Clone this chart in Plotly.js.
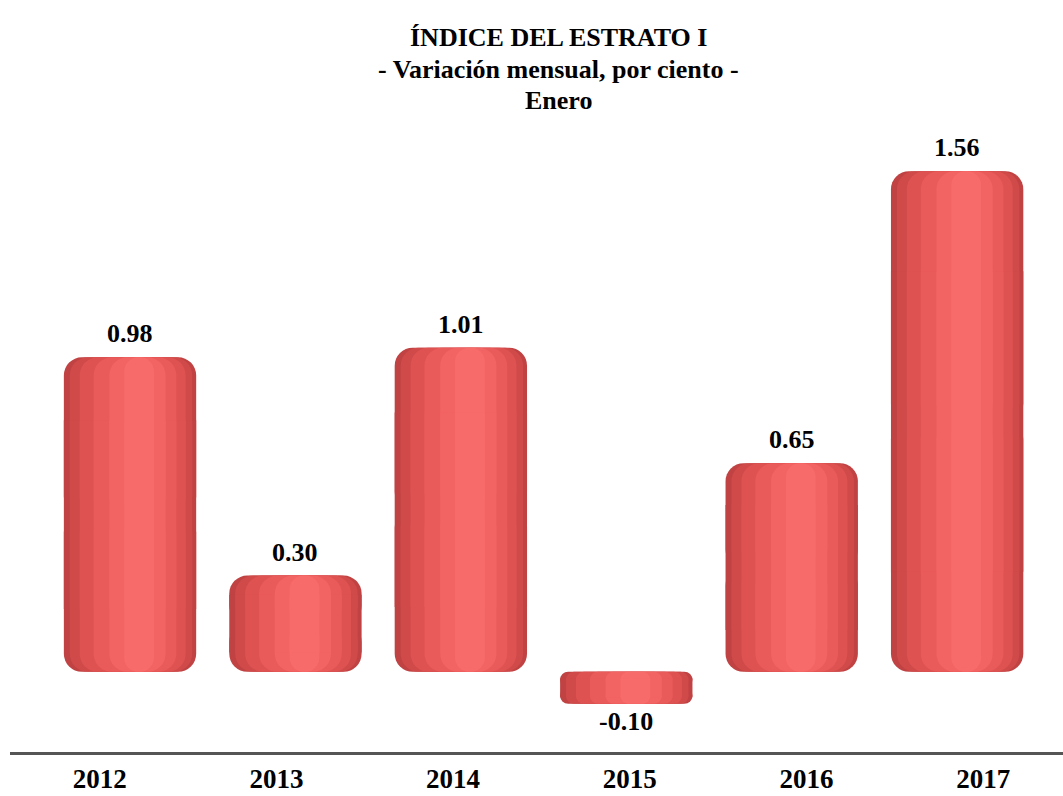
<!DOCTYPE html>
<html><head><meta charset="utf-8">
<script src="https://cdn.plot.ly/plotly-3.0.1.min.js"></script>
<style>body{margin:0;background:#fff}#chart{width:1063px;height:796px}</style>
</head><body><div id="chart"></div>
<script>
const years = ['2012','2013','2014','2015','2016','2017'];
const values = [0.98, 0.30, 1.01, -0.10, 0.65, 1.56];
const valueLabels = ['0.98','0.30','1.01','-0.10','0.65','1.56'];
const titleLines = ['ÍNDICE DEL ESTRATO I', '- Variación mensual, por ciento -', 'Enero'];

const idx = years.map((_, i) => i);
const layers = [
  {w: 0.80, off: 0.000, c: '#c04242'},
  {w: 0.74, off: 0.006, c: '#d04a4a'},
  {w: 0.64, off: 0.016, c: '#de5252'},
  {w: 0.50, off: 0.030, c: '#e95a5a'},
  {w: 0.34, off: 0.045, c: '#f26363'},
  {w: 0.18, off: 0.055, c: '#f86b6b'}
];
const traces = [];
layers.forEach(L => {
  const xs = idx.map(i => i + L.off);
  const common = {type:'bar', x: xs, width: L.w, hoverinfo:'skip', showlegend:false};
  traces.push(Object.assign({}, common, {y: values.map(v => v/2), base: values.map(v => v/2),
    marker:{color:L.c, cornerradius: 18}}));
  traces.push(Object.assign({}, common, {y: values.map(v => -v/2), base: values.map(v => v/2),
    marker:{color:L.c, cornerradius: 18}}));
  traces.push(Object.assign({}, common, {y: values.map(v => v*0.6), base: values.map(v => v*0.2),
    marker:{color:L.c}}));
});
// invisible trace carrying the category axis for the year labels
traces.push({type:'scatter', mode:'markers', x: idx, y: idx.map(() => 0), xaxis:'x2', yaxis:'y',
  marker:{opacity:0}, hoverinfo:'skip', showlegend:false});

const fam = '"Liberation Serif","Times New Roman",serif';
const annotations = [];
values.forEach((v, i) => {
  annotations.push({x: i, y: v, xref:'x', yref:'y', text: valueLabels[i], showarrow:false,
    yanchor: v >= 0 ? 'bottom' : 'top', yshift: v >= 0 ? 7 : -1,
    font: {family: fam, size: 26, weight: 'bold', color:'#000'}});
});
const titleY = [1.1877, 1.1329, 1.0814];
titleLines.forEach((t, k) => {
  annotations.push({x: 0.5205, y: titleY[k], xref:'paper', yref:'paper', text: t, showarrow:false,
    xanchor:'center', yanchor:'middle', font: {family: fam, size: 26, weight: 'bold', color:'#000'}});
});

const layout = {
  width: 1063, height: 796,
  margin: {l: 10, r: 0, t: 150, b: 44},
  paper_bgcolor: '#fff', plot_bgcolor: '#fff',
  barmode: 'overlay',
  xaxis: {range: [-0.7255, 5.64], showticklabels: false, ticks: '', showgrid: false, zeroline: false,
    showline: true, linecolor: '#555', linewidth: 3, fixedrange: true},
  xaxis2: {overlaying: 'x', anchor: 'y', side: 'bottom', range: [-0.508, 5.452],
    tickvals: idx, ticktext: years, ticks: '', ticklabelstandoff: 8,
    tickfont: {family: fam, size: 27, weight: 'bold', color: '#000'},
    showgrid: false, zeroline: false, showline: false},
  yaxis: {range: [-0.25, 1.626], visible: false, showgrid: false, zeroline: false},
  annotations: annotations
};
Plotly.newPlot('chart', traces, layout, {displayModeBar: false, staticPlot: true});
</script></body></html>
